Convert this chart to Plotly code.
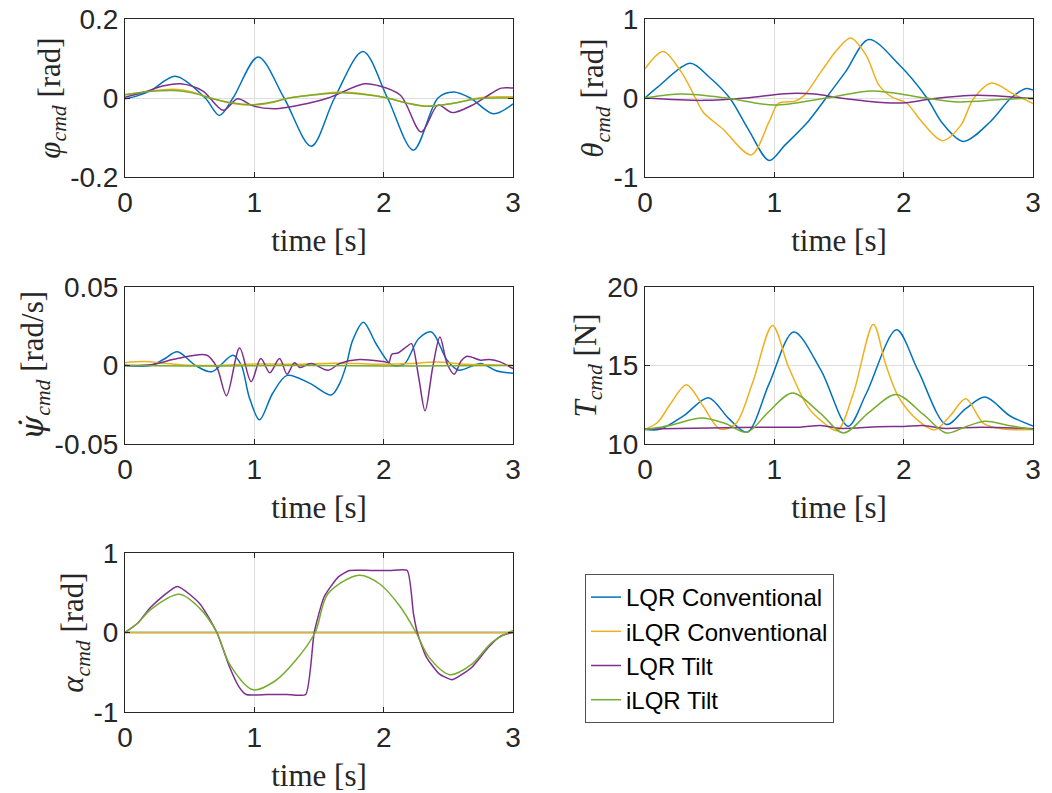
import plotly.graph_objects as go

# ---------------- data ----------------
series_names = ["LQR Conventional", "iLQR Conventional", "LQR Tilt", "iLQR Tilt"]
series_colors = ["#0072BD", "#EDB120", "#7E2F8E", "#77AC30"]

# panel 1: phi_cmd [rad]
phi_lqr_t = [0, 0.1, 0.2, 0.39, 0.62, 0.73, 0.835, 1.03, 1.23, 1.44, 1.62, 1.84, 2.03, 2.23, 2.42, 2.54, 2.67, 2.85, 3.0]
phi_lqr_v = [-0.002, 0.006, 0.019, 0.055, 0.0, -0.044, 0.0, 0.104, 0.0, -0.122, 0.0, 0.118, 0.0, -0.132, 0.0, 0.015, 0.0, -0.040, -0.015]
phi_ilqr_t = [0, 0.2, 0.38, 0.52, 0.66, 0.82, 0.99, 1.13, 1.27, 1.47, 1.67, 1.85, 2.03, 2.18, 2.33, 2.53, 2.73, 2.9, 3.0]
phi_ilqr_v = [0.008, 0.018, 0.022, 0.015, 0.0, -0.013, -0.018, -0.012, 0.0, 0.009, 0.015, 0.010, 0.0, -0.013, -0.021, -0.014, 0.0, 0.003, 0.003]
phi_tilt_t = [0, 0.15, 0.3, 0.43, 0.6, 0.76, 0.87, 0.99, 1.16, 1.35, 1.57, 1.85, 1.95, 2.13, 2.29, 2.42, 2.53, 2.68, 2.81, 2.91, 3.0]
phi_tilt_v = [0.002, 0.015, 0.031, 0.036, 0.018, -0.031, -0.002, -0.020, -0.027, -0.018, 0.0, 0.036, 0.032, 0.007, -0.086, -0.018, -0.037, -0.019, 0.007, 0.025, 0.025]
phi_itilt_t = [0, 0.2, 0.38, 0.52, 0.66, 0.82, 0.99, 1.13, 1.27, 1.47, 1.67, 1.85, 2.03, 2.18, 2.33, 2.53, 2.73, 2.9, 3.0]
phi_itilt_v = [0.008, 0.017, 0.019, 0.013, 0.0, -0.012, -0.017, -0.011, 0.0, 0.008, 0.013, 0.009, 0.0, -0.013, -0.021, -0.014, -0.002, 0.0, 0.0]

# panel 2: theta_cmd [rad]
th_lqr_t = [0, 0.1, 0.35, 0.5, 0.655, 0.8, 0.96, 1.08, 1.26, 1.40, 1.55, 1.73, 1.96, 2.18, 2.30, 2.46, 2.67, 2.83, 2.95, 3.0]
th_lqr_v = [0, 0.14, 0.44, 0.26, 0.0, -0.40, -0.79, -0.60, -0.30, 0.0, 0.33, 0.74, 0.43, 0.0, -0.32, -0.55, -0.30, 0.0, 0.12, 0.10]
th_ilqr_t = [0, 0.14, 0.28, 0.39, 0.45, 0.60, 0.82, 0.96, 1.03, 1.16, 1.23, 1.36, 1.49, 1.59, 1.71, 1.81, 1.91, 2.02, 2.14, 2.30, 2.44, 2.54, 2.68, 2.85, 3.0]
th_ilqr_v = [0.37, 0.59, 0.33, 0.0, -0.18, -0.39, -0.72, -0.30, -0.07, -0.04, 0.03, 0.33, 0.62, 0.76, 0.54, 0.16, 0.01, -0.06, -0.30, -0.54, -0.35, -0.01, 0.19, 0.05, -0.07]
th_tilt_t = [0, 0.45, 0.78, 1.08, 1.31, 1.51, 1.86, 2.02, 2.22, 2.57, 3.0]
th_tilt_v = [0, -0.03, 0.0, 0.055, 0.05, 0.0, -0.06, -0.06, -0.01, 0.035, -0.01]
th_itilt_t = [0, 0.28, 0.63, 1.0, 1.40, 1.76, 2.17, 2.42, 2.75, 3.0]
th_itilt_v = [0.0, 0.05, 0.0, -0.09, 0.0, 0.09, 0.0, -0.05, -0.02, 0.0]

# panel 3: psi_dot_cmd [rad/s]
psi_lqr_t = [0, 0.2, 0.3, 0.405, 0.545, 0.67, 0.835, 0.9, 0.96, 1.04, 1.14, 1.253, 1.43, 1.595, 1.66, 1.71, 1.76, 1.843, 1.94, 2.04, 2.076, 2.16, 2.27, 2.37, 2.49, 2.58, 2.75, 2.87, 3.0]
psi_lqr_v = [0, 0, 0.004, 0.0087, 0.0, -0.004, 0.0065, 0.0, -0.020, -0.0346, -0.018, -0.0063, -0.0114, -0.0188, -0.0114, 0.0, 0.016, 0.0276, 0.014, 0.0017, 0.0, 0.001, 0.017, 0.0213, 0.0034, -0.003, 0.0013, -0.0034, -0.005]
psi_ilqr_t = [0, 0.15, 0.3, 0.45, 0.7, 1.0, 1.3, 1.6, 1.8, 2.0, 2.2, 2.4, 2.6, 2.8, 3.0]
psi_ilqr_v = [0.0018, 0.0025, 0.0015, 0.0003, 0.0, 0.001, 0.0008, 0.0015, 0.0012, 0.0008, 0.0012, 0.0022, 0.001, 0.0005, 0.0]
psi_tilt_t = [0, 0.2, 0.405, 0.63, 0.71, 0.785, 0.886, 0.975, 1.05, 1.12, 1.195, 1.253, 1.31, 1.354, 1.44, 1.57, 1.66, 1.81, 2.0, 2.04, 2.063, 2.11, 2.18, 2.215, 2.27, 2.32, 2.38, 2.435, 2.49, 2.545, 2.6, 2.645, 2.75, 2.82, 2.9, 3.0]
psi_tilt_v = [0, 0.0005, 0.0044, 0.0067, -0.001, -0.0192, 0.0112, -0.0103, 0.0044, -0.0046, 0.0044, -0.0055, 0.0017, -0.0013, 0.0013, -0.003, 0.0013, 0.0038, 0.0025, 0.002, 0.0072, 0.008, 0.0122, 0.0139, -0.0072, -0.0289, -0.0008, 0.0181, 0.0013, -0.0055, 0.003, 0.0059, 0.0034, 0.0038, 0.0023, -0.002]
psi_itilt_t = [0, 0.5, 1.0, 1.5, 2.0, 2.5, 3.0]
psi_itilt_v = [0, -0.0003, -0.0002, 0, -0.0003, -0.0002, 0]

# panel 4: T_cmd [N]
T_lqr_t = [0, 0.12, 0.3, 0.49, 0.65, 0.79, 0.96, 1.15, 1.36, 1.57, 1.71, 1.945, 2.11, 2.33, 2.48, 2.63, 2.82, 3.0]
T_lqr_v = [10.92, 10.95, 11.8, 12.95, 11.6, 10.75, 13.85, 17.14, 14.7, 11.13, 13.2, 17.27, 14.7, 11.24, 12.25, 12.99, 11.8, 11.15]
T_ilqr_t = [0, 0.1, 0.2, 0.32, 0.45, 0.58, 0.70, 0.83, 0.986, 1.11, 1.26, 1.36, 1.485, 1.61, 1.766, 1.86, 1.96, 2.11, 2.24, 2.36, 2.48, 2.62, 2.77, 3.0]
T_ilqr_v = [10.92, 11.4, 12.6, 13.78, 12.4, 10.95, 11.28, 13.85, 17.54, 14.9, 12.35, 11.5, 10.85, 13.2, 17.63, 15.1, 13.0, 11.5, 10.9, 11.8, 12.88, 11.3, 10.96, 10.92]
T_tilt_t = [0, 0.5, 1.0, 1.2, 1.36, 1.5, 1.8, 2.0, 2.15, 2.3, 2.6, 3.0]
T_tilt_v = [10.95, 11.02, 11.07, 11.07, 11.18, 11.0, 11.1, 11.12, 11.18, 11.0, 11.07, 10.97]
T_itilt_t = [0, 0.2, 0.44, 0.62, 0.79, 0.95, 1.14, 1.35, 1.535, 1.73, 1.94, 2.15, 2.33, 2.48, 2.63, 2.8, 3.0]
T_itilt_v = [10.92, 11.2, 11.65, 11.3, 10.75, 12.0, 13.25, 12.0, 10.7, 12.0, 13.16, 11.9, 10.7, 11.1, 11.45, 11.2, 10.92]

# panel 5: alpha_cmd [rad]
al_lqr_t = [0, 3.0]
al_lqr_v = [0, 0]
al_ilqr_t = [0, 3.0]
al_ilqr_v = [0, 0]
al_tilt_t = [0, 0.1, 0.2, 0.405, 0.58, 0.71, 0.81, 0.88, 0.937, 1.1, 1.25, 1.397, 1.463, 1.54, 1.65, 1.734, 1.9, 2.05, 2.182, 2.23, 2.26, 2.33, 2.43, 2.53, 2.68, 2.81, 2.91, 3.0]
al_tilt_v = [0, 0.12, 0.32, 0.58, 0.36, 0.0, -0.44, -0.68, -0.78, -0.78, -0.78, -0.78, 0.0, 0.45, 0.70, 0.78, 0.78, 0.78, 0.78, 0.24, 0.0, -0.31, -0.52, -0.594, -0.44, -0.185, -0.04, 0.0]
al_itilt_t = [0, 0.1, 0.2, 0.42, 0.58, 0.71, 0.81, 0.99, 1.16, 1.32, 1.47, 1.57, 1.81, 1.97, 2.13, 2.25, 2.35, 2.51, 2.68, 2.84, 3.0]
al_itilt_v = [0, 0.12, 0.29, 0.48, 0.30, 0.0, -0.40, -0.72, -0.61, -0.35, 0.0, 0.49, 0.72, 0.61, 0.32, 0.0, -0.31, -0.53, -0.40, -0.12, 0.025]

serif_span = '<span style="font-family:DejaVu Serif">'
panel_titles = [
    "<i>φ</i><sub><i>cmd</i></sub> [rad]",
    "<i>θ</i><sub><i>cmd</i></sub> [rad]",
    serif_span + "<i>ψ̇</i></span><sub><i>cmd</i></sub> [rad/s]",
    "<i>T</i><sub><i>cmd</i></sub> [N]",
    "<i>α</i><sub><i>cmd</i></sub> [rad]",
]
panel_yticks = [[-0.2, 0, 0.2], [-1, 0, 1], [-0.05, 0, 0.05], [10, 15, 20], [-1, 0, 1]]
panel_yticktext = [["-0.2", "0", "0.2"], ["-1", "0", "1"], ["-0.05", "0", "0.05"], ["10", "15", "20"], ["-1", "0", "1"]]
x_ticks = [0, 1, 2, 3]
x_title = "time [s]"

panels = [
    [(phi_lqr_t, phi_lqr_v), (phi_ilqr_t, phi_ilqr_v), (phi_tilt_t, phi_tilt_v), (phi_itilt_t, phi_itilt_v)],
    [(th_lqr_t, th_lqr_v), (th_ilqr_t, th_ilqr_v), (th_tilt_t, th_tilt_v), (th_itilt_t, th_itilt_v)],
    [(psi_lqr_t, psi_lqr_v), (psi_ilqr_t, psi_ilqr_v), (psi_tilt_t, psi_tilt_v), (psi_itilt_t, psi_itilt_v)],
    [(T_lqr_t, T_lqr_v), (T_ilqr_t, T_ilqr_v), (T_tilt_t, T_tilt_v), (T_itilt_t, T_itilt_v)],
    [(al_lqr_t, al_lqr_v), (al_ilqr_t, al_ilqr_v), (al_tilt_t, al_tilt_v), (al_itilt_t, al_itilt_v)],
]

# ---------------- layout geometry ----------------
W, H = 1052, 793
col_x = [(125, 513), (645, 1033)]
row_y = [(19, 177), (287, 444), (553, 712)]
panel_pos = [(0, 0), (0, 1), (1, 0), (1, 1), (2, 0)]

fig = go.Figure()
axis_color = "#262626"
grid_color = "#dedede"
tick_font = dict(family="Liberation Sans, Arial, sans-serif", size=28, color=axis_color)
title_font = dict(family="Liberation Serif, Times New Roman, serif", size=31, color=axis_color)

for p, data in enumerate(panels):
    n = p + 1
    r, c = panel_pos[p]
    x0, x1 = col_x[c]
    y0, y1 = row_y[r]
    xd = [x0 / W, x1 / W]
    yd = [1 - y1 / H, 1 - y0 / H]
    suffix = "" if n == 1 else str(n)
    for s, (tt, vv) in enumerate(data):
        smooth = 0.5 if (p == 4 and s == 2) else 0.9
        fig.add_trace(go.Scatter(
            x=tt, y=vv, mode="lines", name=series_names[s],
            line=dict(color=series_colors[s], width=1.5, shape="spline", smoothing=smooth),
            xaxis="x" + suffix, yaxis="y" + suffix,
            legendgroup=series_names[s], showlegend=(p == 0),
        ))
    yt = panel_yticks[p]
    fig.layout["xaxis" + suffix] = dict(
        domain=xd, anchor="y" + suffix, range=[0, 3], tickvals=x_ticks,
        ticktext=[str(v) for v in x_ticks], showgrid=True, gridcolor=grid_color,
        zeroline=False, showline=True, mirror="ticks", linecolor=axis_color,
        linewidth=1, ticks="inside", ticklen=5, tickcolor=axis_color, automargin=False,
        tickfont=tick_font, title=dict(text=x_title, font=title_font, standoff=12),
    )
    fig.layout["yaxis" + suffix] = dict(
        domain=yd, anchor="x" + suffix, range=[yt[0], yt[-1]], tickvals=yt,
        ticktext=panel_yticktext[p], showgrid=True, gridcolor=grid_color,
        zeroline=False, showline=True, mirror="ticks", linecolor=axis_color,
        linewidth=1, ticks="inside", ticklen=5, tickcolor=axis_color, automargin=False,
        tickfont=tick_font, title=dict(text=panel_titles[p], font=title_font, standoff=0),
    )

fig.update_layout(
    width=W, height=H,
    margin=dict(l=0, r=0, t=0, b=0, autoexpand=False),
    paper_bgcolor="white", plot_bgcolor="white",
    showlegend=True,
    legend=dict(
        x=585 / W, y=1 - 574 / H, xanchor="left", yanchor="top",
        bgcolor="white", bordercolor="#505050", borderwidth=1,
        font=dict(family="Liberation Sans, Arial, sans-serif", size=24, color="black"),
        itemwidth=30, tracegroupgap=0,
    ),
)

fig.write_html("out.html", config={"displayModeBar": False},
               post_script="document.body.style.margin='0px';")
